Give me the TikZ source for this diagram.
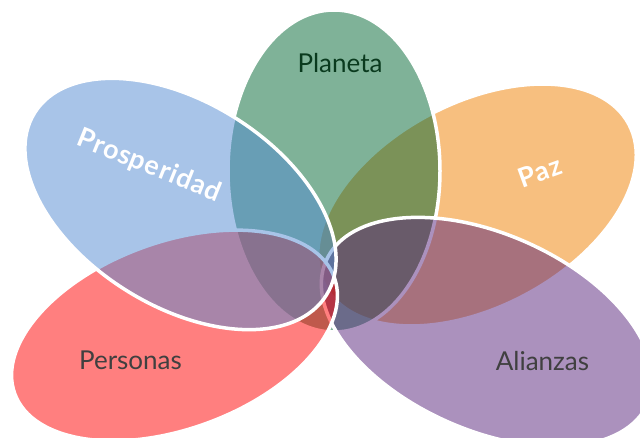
\documentclass[tikz,border=0pt]{standalone}
\usepackage{fontspec}
\setmainfont{Lato}
\definecolor{cOrange}{RGB}{241,129,1}
\definecolor{cGreen}{RGB}{0,102,51}
\definecolor{cBlue}{RGB}{83,139,211}
\definecolor{cRed}{RGB}{255,1,1}
\definecolor{cPurple}{RGB}{89,37,125}
\definecolor{txtGreen}{RGB}{10,58,30}
\definecolor{txtGrey}{RGB}{64,64,64}
\tikzset{
  petal/.style={fill=#1, fill opacity=0.5, draw=white, draw opacity=1, line width=3.5pt},
  lbl/.style={font=\fontsize{26}{30}\selectfont, text=txtGrey, inner sep=0pt, anchor=base},
  boldlbl/.style={font=\fontsize{27}{30}\selectfont\bfseries\addfontfeature{LetterSpace=3}, text=white, inner sep=0pt}
}
\begin{document}
\begin{tikzpicture}[x=1pt,y=1pt]
\clip (0,0) rectangle (640,437);
\fill[white] (0,0) rectangle (640,437);
% Paz (orange)
\path[petal=cOrange, rotate around={28:(477,232)}] (477,232) ellipse [x radius=172pt, y radius=102pt];
% Planeta (green)
\path[petal=cGreen] (334,266) ellipse [x radius=106pt, y radius=161pt];
% Alianzas (purple)
\path[petal=cPurple, rotate around={-24:(487,105)}] (487,105) ellipse [x radius=176pt, y radius=98pt];
% Personas (red)
\path[petal=cRed, rotate around={20:(174.5,101.5)}] (174.5,101.5) ellipse [x radius=170pt, y radius=93.5pt];
% Prosperidad (blue)
\path[petal=cBlue, rotate around={-32:(180.5,233)}] (180.5,233) ellipse [x radius=172pt, y radius=102pt];
% labels
\node[lbl, text=txtGreen] (planeta) at (340,364) {Planeta};
\node[boldlbl, rotate=-22] (prosp) at (149,271) {Prosperidad};
\node[boldlbl, rotate=20] (paz) at (540,265) {Paz};
\node[lbl] (personas) at (130.5,68) {Personas};
\node[lbl] (alianzas) at (542.5,67) {Alianzas};
\end{tikzpicture}
\end{document}
